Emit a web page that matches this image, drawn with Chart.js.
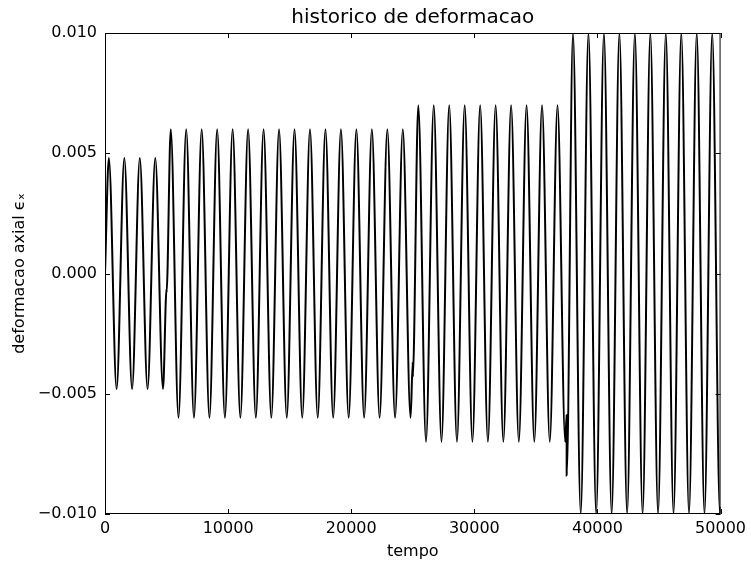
<!DOCTYPE html>
<html>
<head>
<meta charset="utf-8">
<script src="https://cdn.jsdelivr.net/npm/chart.js@4"></script>
<style>
  body { margin: 0; background: #fff; }
  canvas { display: block; }
</style>
</head>
<body>
<canvas id="grafico" width="751" height="562"></canvas>
<script>
// instantes (picos, vales e saltos de amplitude)
const tempo = [
    0, 314, 942, 1571, 2199, 2827, 3456, 4084, 4712, 5000, 5001,
    5341, 5969, 6597, 7226, 7854, 8482, 9111, 9739, 10367, 10996,
    11624, 12252, 12881, 13509, 14137, 14765, 15394, 16022, 16650, 17279,
    17907, 18535, 19164, 19792, 20420, 21049, 21677, 22305, 22934, 23562,
    24190, 24819, 25000, 25001,
    25447, 26075, 26704, 27332, 27960, 28589, 29217, 29845, 30473, 31102,
    31730, 32358, 32987, 33615, 34243, 34872, 35500, 36128, 36757, 37385,
    37500, 37501,
    38013, 38642, 39270, 39898, 40527, 41155, 41783, 42412, 43040, 43668,
    44296, 44925, 45553, 46181, 46810, 47438, 48066, 48695, 49323, 49951,
    50000
];
const deformacao = [
    0, 0.0048, -0.0048, 0.0048, -0.0048, 0.0048, -0.0048, 0.0048, -0.0048, -0.00064, -0.00079,
    0.006, -0.006, 0.006, -0.006, 0.006, -0.006, 0.006, -0.006, 0.006, -0.006,
    0.006, -0.006, 0.006, -0.006, 0.006, -0.006, 0.006, -0.006, 0.006, -0.006,
    0.006, -0.006, 0.006, -0.006, 0.006, -0.006, 0.006, -0.006, 0.006, -0.006,
    0.006, -0.006, -0.00368, -0.0043,
    0.007, -0.007, 0.007, -0.007, 0.007, -0.007, 0.007, -0.007, 0.007, -0.007,
    0.007, -0.007, 0.007, -0.007, 0.007, -0.007, 0.007, -0.007, 0.007, -0.007,
    -0.00588, -0.0084,
    0.01, -0.01, 0.01, -0.01, 0.01, -0.01, 0.01, -0.01, 0.01, -0.01,
    0.01, -0.01, 0.01, -0.01, 0.01, -0.01, 0.01, -0.01, 0.01, -0.01,
    -0.0097
];

const ticksX = [0, 10000, 20000, 30000, 40000, 50000];
const rotulosX = ['0', '10000', '20000', '30000', '40000', '50000'];
const ticksY = [-0.01, -0.005, 0, 0.005, 0.01];
const rotulosY = ['\u22120.010', '\u22120.005', '0.000', '0.005', '0.010'];

const fonte = 'DejaVu Sans';

// moldura e marcas para dentro, nos quatro lados
const moldura = {
    id: 'moldura',
    afterDraw(chart) {
        const ctx = chart.ctx;
        const a = chart.chartArea;
        const sx = chart.scales.x;
        const sy = chart.scales.y;
        const len = 5;
        ctx.save();
        ctx.strokeStyle = '#000';
        ctx.lineWidth = 1;
        ctx.strokeRect(a.left + 0.5, a.top + 0.5, a.right - a.left - 1, a.bottom - a.top - 1);
        ctx.beginPath();
        ticksX.forEach(v => {
            const px = Math.round(sx.getPixelForValue(v)) + 0.5;
            ctx.moveTo(px, a.bottom);
            ctx.lineTo(px, a.bottom - len);
            ctx.moveTo(px, a.top);
            ctx.lineTo(px, a.top + len);
        });
        ticksY.forEach(v => {
            const py = Math.round(sy.getPixelForValue(v)) + 0.5;
            ctx.moveTo(a.left, py);
            ctx.lineTo(a.left + len, py);
            ctx.moveTo(a.right, py);
            ctx.lineTo(a.right - len, py);
        });
        ctx.stroke();
        ctx.restore();
    }
};

new Chart(document.getElementById('grafico'), {
    type: 'line',
    data: {
        datasets: [{
            data: tempo.map((t, i) => ({ x: t, y: deformacao[i] })),
            borderColor: '#000',
            borderWidth: 2,
            pointRadius: 0,
            fill: false,
            tension: 0.4,
            cubicInterpolationMode: 'monotone'
        }]
    },
    options: {
        responsive: false,
        animation: false,
        layout: { padding: { right: 29 } },
        plugins: {
            legend: { display: false },
            tooltip: { enabled: false },
            title: {
                display: true,
                text: 'historico de deformacao',
                fullSize: false,
                color: '#000',
                font: { family: fonte, size: 20, weight: 'normal' },
                padding: { top: 6, bottom: 3 }
            }
        },
        scales: {
            x: {
                type: 'linear',
                min: 0,
                max: 50000,
                afterBuildTicks: s => { s.ticks = ticksX.map(v => ({ value: v })); },
                afterFit: s => { s.height = 48; },
                grid: { display: false, drawTicks: false },
                border: { display: false },
                ticks: {
                    autoSkip: false,
                    maxRotation: 0,
                    padding: 5,
                    color: '#000',
                    font: { family: fonte, size: 16 },
                    callback: (v, i) => rotulosX[i]
                },
                title: {
                    display: true,
                    text: 'tempo',
                    color: '#000',
                    font: { family: fonte, size: 16 },
                    padding: { top: 0, bottom: 1 }
                }
            },
            y: {
                type: 'linear',
                min: -0.01,
                max: 0.01,
                afterBuildTicks: s => { s.ticks = ticksY.map(v => ({ value: v })); },
                afterFit: s => { s.width = 105; },
                grid: { display: false, drawTicks: false },
                border: { display: false },
                ticks: {
                    autoSkip: false,
                    padding: 8,
                    color: '#000',
                    font: { family: fonte, size: 16 },
                    callback: (v, i) => rotulosY[i]
                },
                title: {
                    display: true,
                    text: 'deformacao axial \u03f5\u2093',
                    color: '#000',
                    font: { family: fonte, size: 16 },
                    padding: { top: 10, bottom: 0 }
                }
            }
        }
    },
    plugins: [moldura]
});
</script>
</body>
</html>
